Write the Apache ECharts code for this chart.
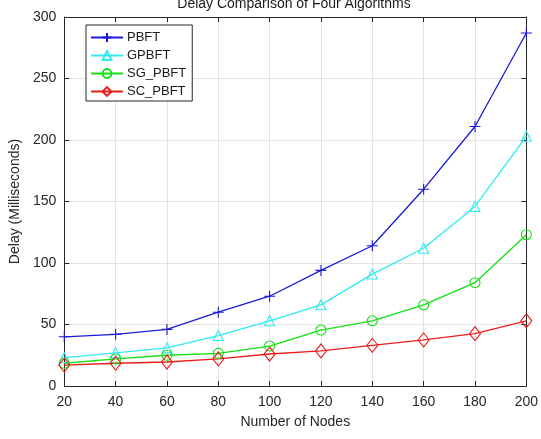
<!DOCTYPE html>
<html>
<head>
<meta charset="utf-8">
<script src="https://cdn.jsdelivr.net/npm/echarts@6/dist/echarts.min.js"></script>
<style>html,body{margin:0;padding:0;background:#fff}#c{width:541px;height:439px}</style>
</head>
<body>
<div id="c"></div>
<script>
const nodes = [20, 40, 60, 80, 100, 120, 140, 160, 180, 200];
const pbft = [40, 42, 46, 60, 73, 94, 114, 160, 211, 287];
const gpbft = [23, 27, 31, 41, 53, 66, 91, 112, 146, 203];
const sgPbft = [18.5, 22, 25, 26.5, 32.5, 45.5, 53, 66, 84, 123];
const scPbft = [17, 18.5, 19.5, 22, 26, 28.5, 33, 37.5, 42.5, 53];
const seriesNames = ['PBFT', 'GPBFT', 'SG_PBFT', 'SC_PBFT'];

const font = 'Liberation Sans, Arial, Helvetica, sans-serif';
const axisColor = '#262626';
const colors = ['#1a1ad6', '#30eaf2', '#14e014', '#ec1c1c'];
const symbols = ['path://M5,0 L5,10 M0,5 L10,5', 'triangle', 'circle', 'path://M5,0 L10,6.5 L5,13 L0,6.5 Z'];
const sizes = [11, 10, 10, [11, 14]];
const datasets = [pbft, gpbft, sgPbft, scPbft];

function pairs(vals) { return nodes.map((n, i) => [n, vals[i]]); }

const chart = echarts.init(document.getElementById('c'), null, {renderer: 'canvas'});
const baseX = {
  type: 'value', min: 20, max: 200, interval: 20,
  axisLine: {show: true, onZero: false, lineStyle: {color: axisColor, width: 1}},
  axisTick: {show: true, inside: true, length: 5, lineStyle: {color: axisColor}},
  splitLine: {show: false}
};
const baseY = {
  type: 'value', min: 0, max: 300, interval: 50,
  axisLine: {show: true, onZero: false, lineStyle: {color: axisColor, width: 1}},
  axisTick: {show: true, inside: true, length: 5, lineStyle: {color: axisColor}},
  splitLine: {show: false}
};
chart.setOption({
  animation: false,
  backgroundColor: '#fff',
  title: {
    text: 'Delay Comparison of Four Algorithms',
    left: 294, textAlign: 'center', top: -3, padding: 0,
    textStyle: {fontFamily: font, fontSize: 14, fontWeight: 'normal', color: '#1a1a1a'}
  },
  legend: {
    orient: 'vertical', left: 86, top: 25,
    data: seriesNames,
    backgroundColor: '#fff', borderColor: '#262626', borderWidth: 1,
    padding: [6, 6, 3, 4], itemGap: 5, itemWidth: 32, itemHeight: 11,
    textStyle: {fontFamily: font, fontSize: 13, color: '#1a1a1a', padding: [0, 0, 0, -1]}
  },
  grid: {left: 60, right: 12, top: 17, bottom: 53},
  xAxis: [
    Object.assign({}, baseX, {
      position: 'bottom',
      name: 'Number of Nodes', nameLocation: 'middle', nameGap: 29,
      nameTextStyle: {fontFamily: font, fontSize: 14, color: axisColor},
      axisLabel: {fontFamily: font, fontSize: 14, color: axisColor, margin: 9},
      splitLine: {show: true, lineStyle: {color: '#e3e3e3', width: 1}}
    }),
    Object.assign({}, baseX, {position: 'top', axisLabel: {show: false}})
  ],
  yAxis: [
    Object.assign({}, baseY, {
      position: 'left',
      name: 'Delay (Milliseconds)', nameLocation: 'middle', nameGap: 38,
      nameTextStyle: {fontFamily: font, fontSize: 14, color: axisColor},
      axisLabel: {fontFamily: font, fontSize: 14, color: axisColor, margin: 8},
      splitLine: {show: true, lineStyle: {color: '#e3e3e3', width: 1}}
    }),
    Object.assign({}, baseY, {position: 'right', axisLabel: {show: false}})
  ],
  series: seriesNames.map((name, k) => ({
    name: name, type: 'line', xAxisIndex: 0, yAxisIndex: 0,
    data: pairs(datasets[k]),
    symbol: symbols[k], symbolSize: sizes[k], showAllSymbol: true,
    lineStyle: {color: colors[k], width: 1.3},
    itemStyle: {color: 'rgba(255,255,255,0)', borderColor: colors[k], borderWidth: 1.1},
    emphasis: {disabled: true}
  }))
});
</script>
</body>
</html>
